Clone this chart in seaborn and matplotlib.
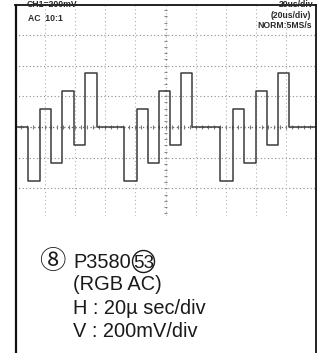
import matplotlib
matplotlib.use("Agg")
import matplotlib.pyplot as plt
from matplotlib.lines import Line2D
from matplotlib.patches import Ellipse
import numpy as np
import pandas as pd
import seaborn as sns

# Scope capture: composite RGB test signal, AC coupled
edge_us = [0, 8.9, 16.9, 24.2, 31.3, 39.1, 46.7, 54.6,
           72.5, 80.8, 88.1, 96.0, 103.3, 110.6, 117.9,
           136.4, 144.7, 152.0, 159.9, 167.5, 174.5, 181.8, 200]
level_mv = [0, -350, 117, -233, 233, -117, 350,
            0, -350, 117, -233, 233, -117, 350,
            0, -350, 117, -233, 233, -117, 350,
            0, 0]

header_left = ["CH1=200mV", "AC  10:1"]
header_right = ["20us/div", "(20us/div)", "NORM:5MS/s"]
caption_lines = ["P3580", "(RGB AC)", "H : 20\u00b5 sec/div", "V : 200mV/div"]
caption_index = "\u2467"
caption_tag = "53"

sns.set_style("white")
plt.rcParams["font.family"] = ["Liberation Sans", "Noto Sans CJK JP", "DejaVu Sans"]

W, H = 320, 353
fig = plt.figure(figsize=(W / 100, H / 100), dpi=100)

def fx(px):
    return px / W

def fy(py):
    return 1 - py / H

# screen area
left_px, right_px, top_px, bot_px = 15, 316, 5, 216
center_px = 127
mv_per_px = 200 / 30.7
ax = fig.add_axes([fx(left_px), fy(bot_px), fx(right_px - left_px), (bot_px - top_px) / H])
ax.set_xlim(0, 200)
ax.set_ylim(-(bot_px - center_px) * mv_per_px, (center_px - top_px) * mv_per_px)
ax.set_xticks([])
ax.set_yticks([])
for s in ["bottom", "left", "right"]:
    ax.spines[s].set_visible(False)
ax.spines["top"].set_color("#111111")
ax.spines["top"].set_linewidth(1.3)
ax.patch.set_alpha(0)

# graticule
for v in [-400, -200, 200, 400, 600]:
    ax.axhline(v, color="#8a8a8a", lw=0.8, ls=(0, (1, 2.2)), zorder=1)
ax.axhline(0, color="#6a6a6a", lw=0.9, ls=(0, (1, 2)), zorder=1)
for t in range(20, 200, 20):
    ax.axvline(t, color="#b0b0b0", lw=0.8, ls=(0, (1, 2.5)), zorder=1)
# sub-division marks on the centre axes
tx = np.arange(4, 200, 4)
ax.vlines(tx, -14, 14, color="#777777", lw=0.8, zorder=1)
ty = np.arange(-560, 800, 40)
ax.hlines(ty, 98.8, 101.2, color="#888888", lw=0.8, zorder=1)

# trace
df = pd.DataFrame({"t": edge_us, "v": level_mv})
sns.lineplot(data=df, x="t", y="v", ax=ax, drawstyle="steps-post",
             estimator=None, sort=False, color="#3c3c3c", lw=1.1, zorder=3)
ax.set_xlabel("")
ax.set_ylabel("")

# outer frame
fig.add_artist(Line2D([fx(15.5), fx(15.5)], [fy(4.5), 0], color="#111111", lw=1.6))
fig.add_artist(Line2D([fx(316.3), fx(316.3)], [fy(4.5), 0], color="#111111", lw=1.3))

# header readouts
hk = dict(fontsize=6.2, fontweight="bold", color="#2a2a2a")
fig.text(fx(27), fy(7), header_left[0], ha="left", va="baseline", **hk)
fig.text(fx(28), fy(21), header_left[1], ha="left", va="baseline", **hk)
fig.text(fx(313), fy(7), header_right[0], ha="right", va="baseline", **hk)
fig.text(fx(311), fy(18), header_right[1], ha="right", va="baseline", **hk)
fig.text(fx(312), fy(27.5), header_right[2], ha="right", va="baseline", **hk)

# caption
ck = dict(fontsize=14.4, color="#1a1a1a", ha="left", va="baseline")
fig.text(fx(52.5), fy(261.5), caption_index, fontsize=19, color="#1a1a1a",
         ha="center", va="center", family=["Noto Sans CJK JP", "DejaVu Sans"])
fig.text(fx(73), fy(268), caption_lines[0], **ck)
fig.add_artist(Ellipse((fx(143.5), fy(261.5)), 22 / W, 22 / H, fc="none",
                       ec="#1a1a1a", lw=1.0, transform=fig.transFigure))
fig.text(fx(143.5), fy(268.5), caption_tag, fontsize=13.6, color="#1a1a1a",
         ha="center", va="baseline")
fig.text(fx(73), fy(290), caption_lines[1], **ck)
fig.text(fx(73), fy(313.5), caption_lines[2], **ck)
fig.text(fx(73), fy(337), caption_lines[3], **ck)

fig.savefig("out.png", dpi=100, facecolor="white")
